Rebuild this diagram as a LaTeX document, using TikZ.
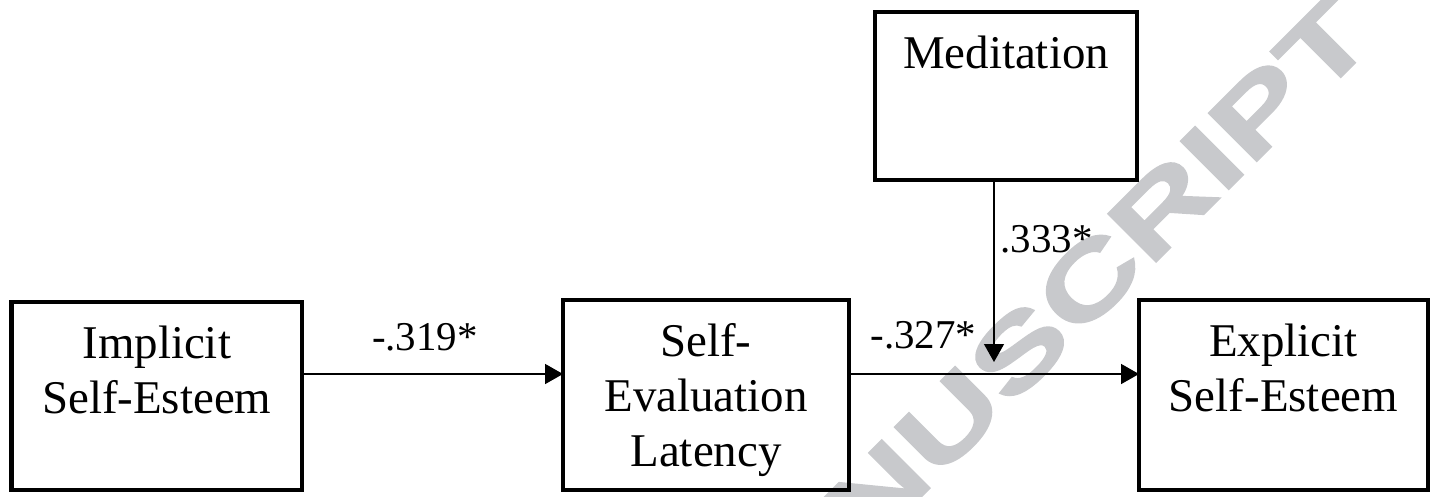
\documentclass[tikz,border=0pt]{standalone}
\usepackage{fontspec}
\setmainfont{Liberation Serif}
\newfontfamily\stampfont[FakeStretch=1.44]{Liberation Sans}
\usetikzlibrary{arrows.meta}
\definecolor{stampgray}{RGB}{200,201,204}
\newcommand{\boxlines}[1]{\begin{tabular}[t]{@{}c@{}}#1\end{tabular}}% lines of a box, baseline on the first one
\tikzset{
	var/.style={draw, rectangle, line width=2.8pt, inner sep=0pt, outer sep=0pt, anchor=north west,
		text height=1.13cm, font=\fontsize{26.7}{31.3}\selectfont},
	link/.style={-{Triangle[length=0.36cm,width=0.4cm]}, line width=0.95pt},
	coef/.style={inner sep=0pt, font=\fontsize{23.3}{28}\selectfont}
}

\begin{document}
\begin{tikzpicture}
	\useasboundingbox (0,0) rectangle (28.72,-9.92);
	\clip (0,0) rectangle (28.72,-9.92);
	
	%watermark, behind everything
	\node[rotate=45, anchor=base west, inner sep=0pt, text=stampgray,
		font=\stampfont\bfseries\addfontfeature{FakeBold=1.5}\fontsize{56.3}{60}\selectfont] (stamp) at (14.14,-14.22) {MANUSCRIPT};
	
	%boxes
	\node[var, minimum width=5.81cm, text depth=2.63cm] (impl) at (0.23,-6.04) {\boxlines{Implicit\\Self-Esteem}};
	\node[var, minimum width=5.72cm, text depth=2.67cm] (sel) at (11.26,-6.0) {\boxlines{Self-\\Evaluation\\Latency}};
	\node[var, minimum width=5.78cm, text depth=2.67cm] (expl) at (22.78,-6.0) {\boxlines{Explicit\\Self-Esteem}};
	\node[var, minimum width=5.24cm, text depth=2.23cm] (med) at (17.5,-0.24) {Meditation};
	
	%arrows
	\coordinate (lev) at (0,-7.48);		%height of the main path
	\coordinate (mod) at (19.88,-7.24);	%tip of the moderator arrow
	\draw[link] (impl.east |- lev) -- (sel.west |- lev);
	\draw[link] (sel.east |- lev) -- (expl.west |- lev);
	\draw[link, line width=0.7pt] (med.south -| mod) -- (mod);
	
	%coefficients
	\node[coef, anchor=base] (wIS) at (8.5,-7.0) {-.319*};
	\node[coef, anchor=base] (wSE) at (18.47,-6.96) {-.327*};
	\node[coef, anchor=base west] (wM) at (20.0,-5.04) {.333*};
\end{tikzpicture}
\end{document}
